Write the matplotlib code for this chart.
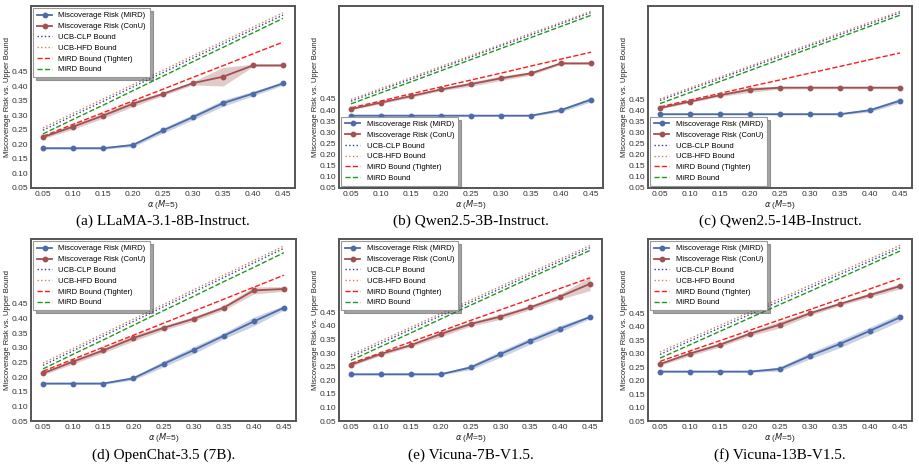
import numpy as np
import matplotlib
matplotlib.use("Agg")
import matplotlib.pyplot as plt

# x values shared by all panels
alphas = [0.05, 0.10, 0.15, 0.20, 0.25, 0.30, 0.35, 0.40, 0.45]
ytick_vals = [0.05, 0.10, 0.15, 0.20, 0.25, 0.30, 0.35, 0.40, 0.45]

titles = ["(a) LLaMA-3.1-8B-Instruct.", "(b) Qwen2.5-3B-Instruct.",
          "(c) Qwen2.5-14B-Instruct.", "(d) OpenChat-3.5 (7B).",
          "(e) Vicuna-7B-V1.5.", "(f) Vicuna-13B-V1.5."]

# Miscoverage risk of MiRD (mean) and band half-width
mird_a = [0.187, 0.187, 0.187, 0.198, 0.248, 0.294, 0.342, 0.375, 0.410]
mird_b = [0.375, 0.375, 0.375, 0.375, 0.375, 0.375, 0.375, 0.400, 0.447]
mird_c = [0.384, 0.384, 0.384, 0.384, 0.384, 0.384, 0.384, 0.402, 0.445]
mird_d = [0.178, 0.178, 0.178, 0.196, 0.245, 0.292, 0.341, 0.390, 0.437]
mird_e = [0.222, 0.222, 0.222, 0.222, 0.247, 0.296, 0.345, 0.390, 0.433]
mird_f = [0.234, 0.234, 0.234, 0.234, 0.244, 0.293, 0.337, 0.386, 0.436]

mird_err_a = [0.003, 0.003, 0.003, 0.006, 0.009, 0.009, 0.011, 0.008, 0.006]
mird_err_b = [0.003, 0.003, 0.003, 0.003, 0.003, 0.003, 0.003, 0.008, 0.010]
mird_err_c = [0.003, 0.003, 0.003, 0.003, 0.003, 0.003, 0.003, 0.008, 0.010]
mird_err_d = [0.003, 0.003, 0.003, 0.006, 0.010, 0.012, 0.010, 0.015, 0.008]
mird_err_e = [0.003, 0.003, 0.003, 0.003, 0.008, 0.012, 0.012, 0.012, 0.006]
mird_err_f = [0.003, 0.003, 0.003, 0.003, 0.008, 0.012, 0.014, 0.014, 0.014]

# Miscoverage risk of ConU (mean) and band half-width
conu_a = [0.225, 0.261, 0.299, 0.340, 0.374, 0.411, 0.433, 0.472, 0.472]
conu_b = [0.405, 0.434, 0.463, 0.493, 0.517, 0.543, 0.565, 0.610, 0.610]
conu_c = [0.412, 0.441, 0.470, 0.495, 0.504, 0.504, 0.504, 0.504, 0.504]
conu_d = [0.213, 0.253, 0.291, 0.333, 0.368, 0.399, 0.437, 0.496, 0.501]
conu_e = [0.257, 0.297, 0.329, 0.370, 0.407, 0.434, 0.468, 0.508, 0.555]
conu_f = [0.262, 0.301, 0.334, 0.375, 0.409, 0.451, 0.486, 0.519, 0.552]

conu_err_a = [0.005, 0.009, 0.009, 0.010, 0.006, 0.006, 0.032, 0.004, 0.004]
conu_err_b = [0.004, 0.005, 0.006, 0.006, 0.010, 0.010, 0.008, 0.005, 0.005]
conu_err_c = [0.004, 0.005, 0.006, 0.012, 0.006, 0.005, 0.005, 0.005, 0.005]
conu_err_d = [0.005, 0.008, 0.008, 0.010, 0.008, 0.008, 0.008, 0.012, 0.008]
conu_err_e = [0.005, 0.006, 0.006, 0.010, 0.008, 0.010, 0.008, 0.010, 0.025]
conu_err_f = [0.005, 0.008, 0.008, 0.008, 0.012, 0.008, 0.006, 0.008, 0.010]

# bounds
clp_a = [0.249, 0.299, 0.348, 0.398, 0.447, 0.497, 0.546, 0.596, 0.645]
clp_b = [0.440, 0.490, 0.539, 0.589, 0.639, 0.689, 0.738, 0.788, 0.838]
clp_c = [0.446, 0.496, 0.545, 0.595, 0.645, 0.694, 0.744, 0.793, 0.843]
clp_d = [0.240, 0.290, 0.340, 0.390, 0.440, 0.490, 0.540, 0.590, 0.640]
clp_e = [0.286, 0.336, 0.387, 0.437, 0.487, 0.537, 0.588, 0.638, 0.688]
clp_f = [0.298, 0.348, 0.397, 0.447, 0.497, 0.546, 0.596, 0.645, 0.695]

hfd_a = [0.257, 0.307, 0.356, 0.406, 0.455, 0.505, 0.554, 0.604, 0.653]
hfd_b = [0.447, 0.497, 0.546, 0.596, 0.645, 0.695, 0.745, 0.794, 0.844]
hfd_c = [0.453, 0.503, 0.552, 0.602, 0.652, 0.701, 0.751, 0.800, 0.850]
hfd_d = [0.248, 0.298, 0.348, 0.398, 0.448, 0.498, 0.548, 0.598, 0.648]
hfd_e = [0.294, 0.344, 0.395, 0.445, 0.495, 0.545, 0.596, 0.646, 0.696]
hfd_f = [0.307, 0.357, 0.406, 0.456, 0.506, 0.555, 0.605, 0.654, 0.704]

tight_a = [0.228, 0.269, 0.309, 0.350, 0.390, 0.431, 0.471, 0.512, 0.552]
tight_b = [0.410, 0.441, 0.473, 0.504, 0.535, 0.566, 0.598, 0.629, 0.660]
tight_c = [0.417, 0.448, 0.478, 0.509, 0.539, 0.570, 0.600, 0.631, 0.661]
tight_d = [0.220, 0.261, 0.302, 0.343, 0.384, 0.425, 0.466, 0.507, 0.548]
tight_e = [0.262, 0.301, 0.341, 0.380, 0.420, 0.459, 0.498, 0.538, 0.577]
tight_f = [0.272, 0.311, 0.349, 0.388, 0.427, 0.465, 0.504, 0.542, 0.581]

mbound_a = [0.236, 0.286, 0.335, 0.385, 0.435, 0.485, 0.534, 0.584, 0.634]
mbound_b = [0.428, 0.478, 0.527, 0.577, 0.627, 0.677, 0.726, 0.776, 0.826]
mbound_c = [0.432, 0.482, 0.532, 0.582, 0.632, 0.682, 0.732, 0.782, 0.832]
mbound_d = [0.228, 0.278, 0.327, 0.377, 0.427, 0.476, 0.526, 0.575, 0.625]
mbound_e = [0.273, 0.324, 0.374, 0.425, 0.476, 0.526, 0.577, 0.627, 0.678]
mbound_f = [0.284, 0.334, 0.384, 0.434, 0.484, 0.533, 0.583, 0.633, 0.683]

panels = [
    (mird_a, mird_err_a, conu_a, conu_err_a, clp_a, hfd_a, tight_a, mbound_a, "upper left"),
    (mird_b, mird_err_b, conu_b, conu_err_b, clp_b, hfd_b, tight_b, mbound_b, "lower left"),
    (mird_c, mird_err_c, conu_c, conu_err_c, clp_c, hfd_c, tight_c, mbound_c, "lower left"),
    (mird_d, mird_err_d, conu_d, conu_err_d, clp_d, hfd_d, tight_d, mbound_d, "upper left"),
    (mird_e, mird_err_e, conu_e, conu_err_e, clp_e, hfd_e, tight_e, mbound_e, "upper left"),
    (mird_f, mird_err_f, conu_f, conu_err_f, clp_f, hfd_f, tight_f, mbound_f, "upper left"),
]

plt.rcParams['font.family'] = ['Liberation Sans', 'DejaVu Sans']
plt.rcParams['mathtext.fontset'] = 'dejavusans'

W, H = 919, 474
fig = plt.figure(figsize=(W / 100, H / 100), dpi=100)

# axes boxes in pixels: left, top, right, bottom
boxes = [(31, 6, 295, 188), (339, 6, 603, 188), (648, 6, 912, 188),
         (31, 239, 296, 421), (339, 239, 602, 421), (648, 239, 912, 421)]
caption_y = [221, 455]

c_mird = "#4C6BA8"
c_conu = "#A05252"

x = np.array(alphas)
for i, (mr, mre, cu, cue, clp, hfd, tight, mb, loc) in enumerate(panels):
    l, t, r, b = boxes[i]
    ax = fig.add_axes([l / W, 1 - b / H, (r - l) / W, (b - t) / H])
    mr, mre, cu, cue = map(np.array, (mr, mre, cu, cue))

    ax.plot(x, mr, '-o', color=c_mird, lw=1.3, ms=3.2, label="Miscoverage Risk (MiRD)", zorder=5)
    ax.fill_between(x, mr - mre, mr + mre, color=c_mird, alpha=0.3, lw=0)
    ax.plot(x, cu, '-o', color=c_conu, lw=1.3, ms=3.2, label="Miscoverage Risk (ConU)", zorder=5)
    ax.fill_between(x, cu - cue, cu + cue, color=c_conu, alpha=0.3, lw=0)
    ax.plot(x, clp, ':', color="#3A3A9A", lw=1.0, label="UCB-CLP Bound")
    ax.plot(x, hfd, ':', color="#C8875A", lw=1.0, label="UCB-HFD Bound")
    ax.plot(x, tight, '--', color="#FF1A1A", lw=1.0, label="MiRD Bound (Tighter)")
    ax.plot(x, mb, '--', color="#1E9A1E", lw=1.0, label="MiRD Bound")

    ax.set_ylim(bottom=0.05)
    ax.set_xticks(alphas)
    ax.set_xticklabels([f"{a:.2f}" for a in alphas])
    ax.set_yticks(ytick_vals)
    ax.set_yticklabels([f"{v:.2f}" for v in ytick_vals])
    ax.tick_params(labelsize=6, colors="#333333", length=0, pad=2)
    ax.set_xlabel(r"$\alpha$ ($M$=5)", fontsize=6, labelpad=0, color="#222222")
    ax.set_ylabel("Miscoverage Risk vs. Upper Bound", fontsize=5.5, labelpad=0.5, color="#222222")
    for s in ax.spines.values():
        s.set_color("#555555")
        s.set_linewidth(1.4)

    leg = ax.legend(loc=loc, fontsize=5.5, frameon=True, fancybox=False, shadow=True,
                    handlelength=2.0, borderpad=0.5, labelspacing=0.45, borderaxespad=0.3)
    leg.get_frame().set_edgecolor("#999999")
    leg.get_frame().set_linewidth(0.8)

    fig.text((l + r) / 2 / W, 1 - caption_y[i // 3] / H, titles[i], ha="center", va="center",
             fontsize=11, family="Liberation Serif")

fig.savefig("out.png", dpi=100)
